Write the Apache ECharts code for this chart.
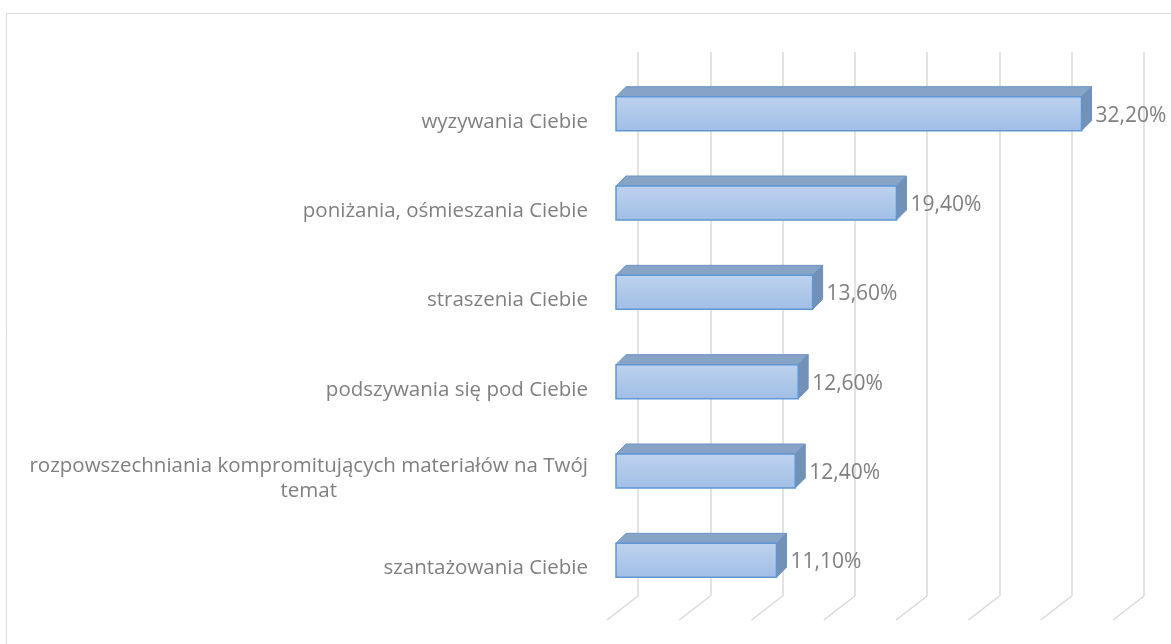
<!DOCTYPE html>
<html>
<head>
<meta charset="utf-8">
<script src="https://cdn.jsdelivr.net/npm/echarts@6/dist/echarts.min.js"></script>
<style>
  html, body { margin: 0; padding: 0; background: #fff; }
  #chart { width: 1171px; height: 644px; }
</style>
</head>
<body>
<div id="chart"></div>
<script>
// dane z wykresu
var categories = [
  "wyzywania Ciebie",
  "poniżania, ośmieszania Ciebie",
  "straszenia Ciebie",
  "podszywania się pod Ciebie",
  "rozpowszechniania kompromitujących materiałów na Twój temat",
  "szantażowania Ciebie"
];
var values = [32.2, 19.4, 13.6, 12.6, 12.4, 11.1];
var ticks = [0, 5, 10, 15, 20, 25, 30, 35];

var myChart = echarts.init(document.getElementById("chart"));

var fontName = "'Open Sans', sans-serif";
var depth = 10; // glebokosc 3D
var shiftX = -22; // przod slupka wzgledem tylnej sciany
var shiftY = -8;
var halfH = 17;

var frontFill = new echarts.graphic.LinearGradient(0, 0, 0, 1, [
  { offset: 0, color: "#bdd2ee" },
  { offset: 1, color: "#a1bee6" }
]);

function fmt(v) {
  return v.toFixed(2).replace(".", ",") + "%";
}

function renderBar(params, api) {
  var v = api.value(0);
  var idx = api.value(1);
  var p0 = api.coord([0, idx]);
  var p1 = api.coord([v, idx]);
  var x0 = p0[0] + shiftX;
  var x1 = p1[0] + shiftX;
  var yc = p0[1] + shiftY;
  var y0 = yc - halfH;
  var y1 = yc + halfH;
  return {
    type: "group",
    children: [
      {
        type: "polygon",
        shape: { points: [[x0, y0], [x0 + depth, y0 - depth], [x1 + depth, y0 - depth], [x1, y0]] },
        style: { fill: "#87a3c6", stroke: "#6b93c6", lineWidth: 1 }
      },
      {
        type: "polygon",
        shape: { points: [[x1, y0], [x1 + depth, y0 - depth], [x1 + depth, y1 - depth], [x1, y1]] },
        style: { fill: "#7390b6", stroke: "#6b93c6", lineWidth: 1 }
      },
      {
        type: "rect",
        shape: { x: x0, y: y0, width: x1 - x0, height: y1 - y0 },
        style: { fill: frontFill, stroke: "#5e97d3", lineWidth: 1.5 }
      },
      {
        type: "text",
        style: {
          text: fmt(v),
          x: x1 + depth + 4,
          y: yc + 2,
          verticalAlign: "middle",
          fill: "#7f7f7f",
          font: "21px " + fontName
        }
      }
    ]
  };
}

// skosne koncowki linii siatki (podloga)
function renderFloor(params, api) {
  var p = api.coord([api.value(0), 0]);
  return {
    type: "line",
    shape: { x1: p[0], y1: p[1], x2: p[0] - 31, y2: p[1] + 24 },
    style: { stroke: "#d9d9d9", lineWidth: 1.5 }
  };
}

var option = {
  animation: false,
  backgroundColor: "#ffffff",
  graphic: [
    {
      type: "rect",
      left: 4,
      top: 11,
      shape: { width: 1200, height: 700 },
      style: { fill: "none", stroke: "#d9d9d9", lineWidth: 1 },
      z: -1
    }
  ],
  grid: [
    { left: 638, right: 27, top: 52, bottom: 48 },
    { left: 638, right: 27, top: 77, bottom: 31 }
  ],
  xAxis: [
    {
      gridIndex: 0,
      type: "value",
      min: 0,
      max: 35,
      interval: 5,
      axisLine: { show: false },
      axisTick: { show: false },
      axisLabel: { show: false },
      splitLine: { show: true, lineStyle: { color: "#d9d9d9", width: 1.5 } }
    },
    {
      gridIndex: 1,
      type: "value",
      min: 0,
      max: 35,
      interval: 5,
      axisLine: { show: false },
      axisTick: { show: false },
      axisLabel: { show: false },
      splitLine: { show: false }
    }
  ],
  yAxis: [
    {
      gridIndex: 0,
      type: "value",
      min: 0,
      max: 1,
      show: false
    },
    {
      gridIndex: 1,
      type: "category",
      inverse: true,
      data: categories,
      axisLine: { show: false },
      axisTick: { show: false },
      splitLine: { show: false },
      axisLabel: {
        margin: 50,
        color: "#7f7f7f",
        fontSize: 20.5,
        fontFamily: fontName,
        lineHeight: 25,
        formatter: function (name) {
          var i = name.indexOf(" Twój ");
          if (i > 0) {
            return "{c|" + name.slice(0, i + 5) + "}\n{c|" + name.slice(i + 6) + "}";
          }
          return name;
        },
        rich: {
          c: {
            align: "center",
            color: "#7f7f7f",
            fontSize: 20.5,
            fontFamily: fontName,
            lineHeight: 25
          }
        }
      }
    }
  ],
  series: [
    {
      name: "siatka",
      type: "custom",
      xAxisIndex: 0,
      yAxisIndex: 0,
      data: ticks.map(function (t) { return [t, 0]; }),
      renderItem: renderFloor,
      silent: true,
      z: 1
    },
    {
      name: "odsetek",
      type: "custom",
      xAxisIndex: 1,
      yAxisIndex: 1,
      data: values.map(function (v, i) { return [v, categories[i]]; }),
      encode: { x: 0, y: 1 },
      renderItem: renderBar,
      z: 3
    }
  ]
};
myChart.setOption(option);
</script>
</body>
</html>
